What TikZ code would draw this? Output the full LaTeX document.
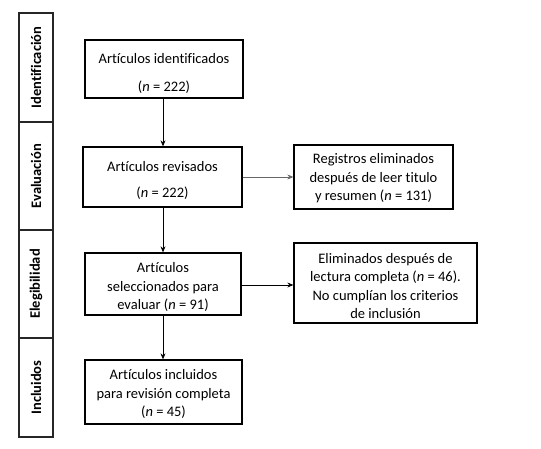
\documentclass[tikz,border=0pt]{standalone}
\usepackage{fontspec}
\setmainfont{Carlito}[Ligatures=NoCommon]
\usetikzlibrary{arrows.meta}
\begin{document}
\begin{tikzpicture}[x=1pt,y=-1pt,
  box/.style={draw=black,line width=1.3pt,inner sep=0pt},
  txt/.style={inner sep=0pt,align=center,
    font=\fontsize{14.5}{18.5}\selectfont},
  stage/.style={draw=black!85,line width=1.2pt,inner sep=0pt,
    minimum width=34pt},
  stagelbl/.style={rotate=90,font=\fontsize{14.5}{17}\selectfont\bfseries},
  conn/.style={line width=0.7pt,-{Stealth[length=6pt,width=5pt]}}]
\useasboundingbox (0,0) rectangle (541,449);
% stage column
\node[stage,minimum height=109pt] (s1) at (36,67.5) {};
\node[stage,minimum height=108pt] (s2) at (36,176) {};
\node[stage,minimum height=108pt] (s3) at (36,284) {};
\node[stage,minimum height=99pt] (s4) at (36,387.5) {};
\node[stagelbl] (l1) at (s1.center) {Identificación};
\node[stagelbl] (l2) at (s2.center) {Evaluación};
\node[stagelbl] (l3) at (s3.center) {Elegibilidad};
\node[stagelbl] (l4) at (s4.center) {Incluidos};
% main boxes
\node[box,minimum width=158pt,minimum height=58pt] (b1) at (164,69) {};
\node[box,minimum width=159pt,minimum height=60pt] (b2) at (162.5,177) {};
\node[box,minimum width=156pt,minimum height=62pt] (b3) at (163,284) {};
\node[box,minimum width=157pt,minimum height=64pt] (b4) at (163.5,392) {};
\node[box,minimum width=159pt,minimum height=64pt] (b5) at (373.5,177) {};
\node[box,minimum width=183pt,minimum height=80pt] (b6) at (385.5,283) {};
% texts
\node[txt] (t1) at ([yshift=-4.5pt]b1.center)
  {Artículos identificados\\[9pt](\textit{n} = 222)};
\node[txt] (t2) at ([yshift=-3.5pt]b2.center)
  {Artículos revisados\\[7pt](\textit{n} = 222)};
\node[txt] (t3) at ([yshift=-3pt]b3.center)
  {Artículos\\seleccionados para\\evaluar (\textit{n} = 91)};
\node[txt] (t4) at ([yshift=-2pt]b4.center)
  {Artículos incluidos\\para revisión completa\\(\textit{n} = 45)};
\node[txt] (t5) at ([yshift=-1.5pt]b5.center)
  {Registros eliminados\\después de leer titulo\\y resumen (\textit{n} = 131)};
\node[txt] (t6) at ([yshift=-3pt]b6.center)
  {Eliminados después de\\lectura completa (\textit{n} = 46).\\No cumplían los criterios\\de inclusión};
% connectors
\draw[conn] (b1.south -| 163,0) -- (b2.north -| 163,0);
\draw[conn] (b2.south -| 163,0) -- (b3.north -| 163,0);
\draw[conn] (b3.south -| 163,0) -- (b4.north -| 163,0);
\draw[conn,draw=black!60] (b2.east |- 0,177) -- (b5.west |- 0,177);
\draw[conn] (b3.east |- 0,285) -- (b6.west |- 0,285);
\end{tikzpicture}
\end{document}
